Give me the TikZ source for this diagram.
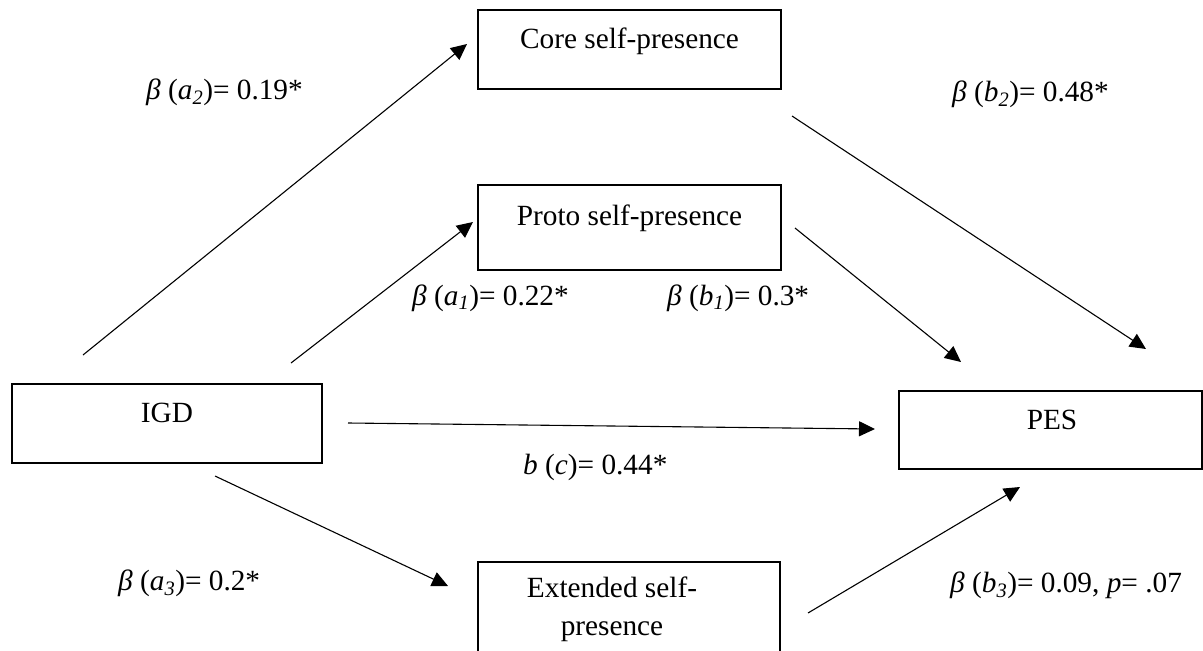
\documentclass[tikz,border=0pt]{standalone}
\usepackage{fontspec}
\setmainfont{Liberation Serif}
\usetikzlibrary{arrows.meta}
\newcommand\vsub[2]{\textit{#1}\textsubscript{\textit{#2}}}
\tikzset{
  box/.style={draw=black, line width=1.6pt, rectangle, inner sep=0pt},
  txt/.style={font=\fontsize{29.3}{34}\selectfont, inner sep=0pt, anchor=base},
  lbl/.style={font=\fontsize{29.3}{34}\selectfont, inner sep=0pt, anchor=base west},
  arr/.style={draw=black, line width=1.1pt, -{Triangle[length=16pt,width=15pt]}},
}
\begin{document}
\begin{tikzpicture}[x=1pt,y=-1pt]
\useasboundingbox (0,0) rectangle (1203,651);
\clip (0,0) rectangle (1203,651);
% boxes
\node[box, minimum width=303pt, minimum height=79pt] (core) at (629.5,49.5) {};
\node[txt] (coret) at (629.5,48) {Core self-presence};
\node[box, minimum width=303pt, minimum height=85pt] (proto) at (629.5,227.5) {};
\node[txt] (protot) at (629.5,225) {Proto self-presence};
\node[box, minimum width=310pt, minimum height=79pt] (igd) at (167,423.5) {};
\node[txt] (igdt) at (167,422) {IGD};
\node[box, minimum width=303pt, minimum height=78pt] (pes) at (1050.5,430) {};
\node[txt] (pest) at (1052,429) {PES};
\node[box, minimum width=302pt, minimum height=110pt] (ext) at (629,617) {};
\node[txt] (extt1) at (612,597) {Extended self-};
\node[txt] (extt2) at (612,635) {presence};
% connector end points
\coordinate (c1s) at (83,355);   \coordinate (c1e) at (467,44);
\coordinate (c2s) at (291,363);  \coordinate (c2e) at (473,222);
\coordinate (c3s) at (795,228);  \coordinate (c3e) at (961,362);
\coordinate (c4s) at (792,116);  \coordinate (c4e) at (1146,349);
\coordinate (c5s) at (348,423);  \coordinate (c5e) at (875,429);
\coordinate (c6s) at (215,476);  \coordinate (c6e) at (448,586);
\coordinate (c7s) at (808,613);  \coordinate (c7e) at (1020,487);
\draw[arr] (c1s) -- (c1e);
\draw[arr] (c2s) -- (c2e);
\draw[arr] (c3s) -- (c3e);
\draw[arr] (c4s) -- (c4e);
\draw[arr] (c5s) -- (c5e);
\draw[arr] (c6s) -- (c6e);
\draw[arr] (c7s) -- (c7e);
% labels
\node[lbl] (la2) at (146,99) {\textit{β} (\vsub{a}{2})= 0.19*};
\node[lbl] (lb2) at (952,101) {\textit{β} (\vsub{b}{2})= 0.48*};
\node[lbl] (la1) at (412,305) {\textit{β} (\vsub{a}{1})= 0.22*};
\node[lbl] (lb1) at (667,305) {\textit{β} (\vsub{b}{1})= 0.3*};
\node[lbl] (lc) at (523,474) {\textit{b} (\textit{c})= 0.44*};
\node[lbl] (la3) at (118,590) {\textit{β} (\vsub{a}{3})= 0.2*};
\node[lbl] (lb3) at (950,592) {\textit{β} (\vsub{b}{3})= 0.09, \textit{p}= .07};
\end{tikzpicture}
\end{document}
